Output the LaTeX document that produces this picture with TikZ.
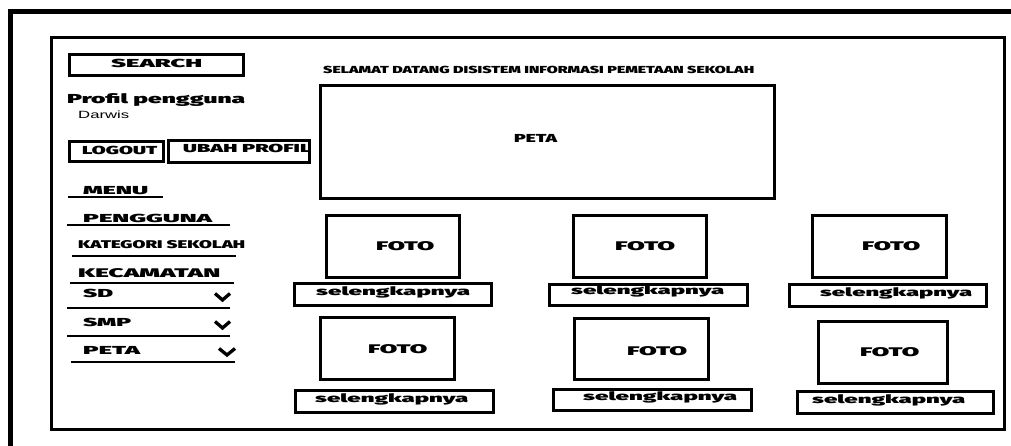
\documentclass[tikz,border=0pt]{standalone}
\usepackage{fontspec}
\newfontfamily\wf{Fira Sans Black}
\newfontfamily\wfr{Liberation Sans}
\newcommand\fsz[1]{\fontsize{#1}{#1}\selectfont}
\newcommand\tw[2]{\resizebox{#1pt}{\height}{#2}}
\begin{document}
\begin{tikzpicture}[x=1pt,y=-1pt,
  boxst/.style={draw, line width=3pt, inner sep=0, anchor=north west},
  txt/.style={inner sep=0, anchor=base west, font=\wf},
  uline/.style={line width=2pt},
  chev/.style={line width=3.3pt, miter limit=4},
]
\useasboundingbox (0,0) rectangle (1011,446);
\fill[white] (0,0) rectangle (1011,446);
% outer frame (partly outside the page)
\draw[line width=5pt] (10.5,446) -- (10.5,12) -- (1011,12);
% inner frame
\node[boxst, minimum width=953pt, minimum height=392pt] (frame) at (50,36) {};

% left column
\node[txt] (searcht) at (111,68) {\fsz{11.6}\tw{91}{SEARCH}};
\node[boxst, minimum width=174pt, minimum height=21pt] (search) at (68,53) {};
\node[txt] (profil) at (67,104) {\fsz{13}\tw{178}{Profil pengguna}};
\node[txt, font=\wfr] (darwis) at (78,119) {\fsz{10.5}\tw{51}{Darwis}};
\node[txt] (logoutt) at (82,155) {\fsz{11.6}\tw{75}{LOGOUT}};
\node[boxst, minimum width=94pt, minimum height=20pt] (logout) at (68,140) {};
\node[txt] (ubaht) at (183,153) {\fsz{11.6}\tw{128}{UBAH PROFIL}};
\node[boxst, minimum width=141pt, minimum height=22pt] (ubah) at (167,139) {};

\node[txt] (menu) at (83,195) {\fsz{11.6}\tw{65}{MENU}};
\draw[uline] (68,197) -- (163,197);
\node[txt] (pengguna) at (83,223) {\fsz{11.6}\tw{129}{PENGGUNA}};
\draw[uline] (67,225) -- (230,225);
\node[txt] (kategori) at (78,248) {\fsz{11.2}\tw{167}{KATEGORI SEKOLAH}};
\draw[uline] (72,256) -- (236,256);
\node[txt] (kecamatan) at (78,277) {\fsz{12.5}\tw{142}{KECAMATAN}};
\draw[uline] (70,283) -- (234,283);
\node[txt] (sd) at (83,298) {\fsz{11.6}\tw{30}{SD}};
\draw[chev] (215,293.5) -- (222.5,300) -- (230,293.5);
\draw[uline] (67,308) -- (230,308);
\node[txt] (smp) at (83,326) {\fsz{11.6}\tw{48}{SMP}};
\draw[chev] (215,321.5) -- (222.5,328) -- (230,321.5);
\draw[uline] (67,336) -- (230,336);
\node[txt] (petam) at (83,354) {\fsz{11.6}\tw{57}{PETA}};
\draw[chev] (219,348.5) -- (227,355) -- (235,348.5);
\draw[uline] (71,362) -- (235,362);

% main area
\node[txt] (title) at (323,74) {\fsz{10.2}\tw{431}{SELAMAT DATANG DISISTEM INFORMASI PEMETAAN SEKOLAH}};
\node[boxst, minimum width=454pt, minimum height=113pt] (peta) at (319,84) {};
\node[txt] (petat) at (514,143) {\fsz{11.6}\tw{43}{PETA}};

\node[boxst, minimum width=133pt, minimum height=62pt] (f11) at (325,214) {};
\node[txt] (f11t) at (376,251) {\fsz{12.5}\tw{58}{FOTO}};
\node[boxst, minimum width=133pt, minimum height=62pt] (f12) at (572,214) {};
\node[txt] (f12t) at (615,251) {\fsz{12.5}\tw{60}{FOTO}};
\node[boxst, minimum width=134pt, minimum height=62pt] (f13) at (811,214) {};
\node[txt] (f13t) at (862,251) {\fsz{12.5}\tw{58}{FOTO}};

\node[boxst, minimum width=197pt, minimum height=22pt] (s11) at (293,282) {};
\node[txt] (s11t) at (316,295) {\fsz{11.6}\tw{154}{selengkapnya}};
\node[boxst, minimum width=198pt, minimum height=21pt] (s12) at (548,283) {};
\node[txt] (s12t) at (571,294) {\fsz{11.6}\tw{153}{selengkapnya}};
\node[boxst, minimum width=197pt, minimum height=22pt] (s13) at (788,283) {};
\node[txt] (s13t) at (820,296) {\fsz{11.6}\tw{152}{selengkapnya}};

\node[boxst, minimum width=134pt, minimum height=62pt] (f21) at (319,316) {};
\node[txt] (f21t) at (368,353) {\fsz{12.5}\tw{59}{FOTO}};
\node[boxst, minimum width=134pt, minimum height=61pt] (f22) at (573,317) {};
\node[txt] (f22t) at (627,355) {\fsz{12.5}\tw{60}{FOTO}};
\node[boxst, minimum width=129pt, minimum height=62pt] (f23) at (817,320) {};
\node[txt] (f23t) at (860,356) {\fsz{12.5}\tw{59}{FOTO}};

\node[boxst, minimum width=198pt, minimum height=22pt] (s21) at (294,389) {};
\node[txt] (s21t) at (315,402) {\fsz{11.6}\tw{153}{selengkapnya}};
\node[boxst, minimum width=198pt, minimum height=21pt] (s22) at (552,388) {};
\node[txt] (s22t) at (583,400) {\fsz{11.6}\tw{154}{selengkapnya}};
\node[boxst, minimum width=196pt, minimum height=22pt] (s23) at (796,390) {};
\node[txt] (s23t) at (812,403) {\fsz{11.6}\tw{153}{selengkapnya}};
\end{tikzpicture}
\end{document}
